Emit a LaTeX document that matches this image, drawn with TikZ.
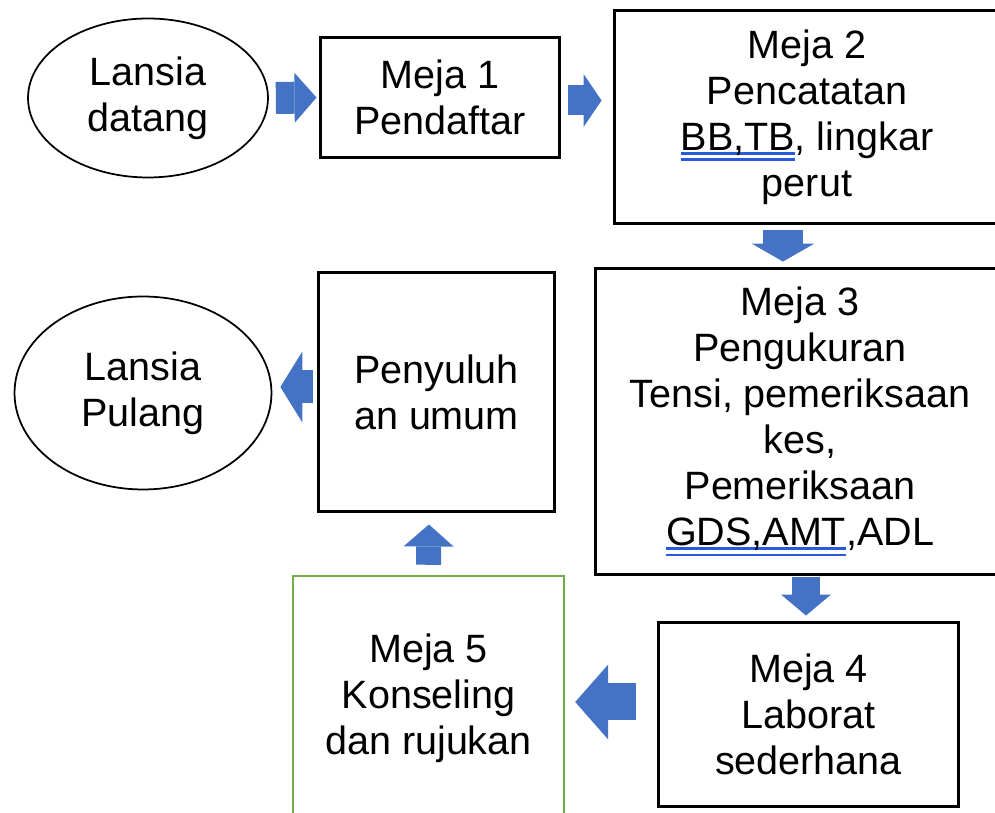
\documentclass[tikz,border=0pt]{standalone}
\usepackage{fontspec}
\setmainfont{Liberation Sans}
\usetikzlibrary{shapes.geometric,arrows.meta,calc}
\definecolor{arrow-blue}{RGB}{68,114,196}
\definecolor{meja-green}{RGB}{112,173,71}
\definecolor{ul-blue}{RGB}{38,92,220}
\newcommand{\dblul}[1]{\setbox0=\hbox{#1}\leavevmode
  \rlap{\textcolor{ul-blue}{\rule[-0.11em]{\wd0}{0.065em}}}%
  \rlap{\textcolor{ul-blue}{\rule[-0.27em]{\wd0}{0.065em}}}\box0}
\tikzset{
  box/.style={draw, line width=0.06cm, align=center, inner sep=0pt},
  oval/.style={draw, ellipse, line width=0.035cm, align=center, inner sep=0pt},
  flow/.style n args={3}{draw=arrow-blue, line width=#1, line cap=butt,
    -{Triangle[width=#2, length=#3, line width=0pt]}},
}

\begin{document}
\begin{tikzpicture}[x=0.02cm, y=-0.02cm, font=\fontsize{22.5}{26.2}\selectfont]
\useasboundingbox (0,0) rectangle (995,813);
\clip (0,0) rectangle (995,813);

\node[oval, minimum width=4.8cm, minimum height=3.18cm] (datang) at (148,98) {Lansia\\datang};
\node[box, minimum width=4.8cm, minimum height=2.42cm] (meja1) at (440,97.5) {Meja 1\\Pendaftar};
\node[box, minimum width=7.72cm, minimum height=4.28cm] (meja2) at (807,117) {Meja 2\\Pencatatan\\\dblul{BB,TB}, lingkar\\perut};
\node[box, minimum width=8.2cm, minimum height=6.14cm] (meja3) at (800,421.5) {Meja 3\\Pengukuran\\Tensi, pemeriksaan\\kes,\\Pemeriksaan\\\dblul{GDS,AMT},ADL};
\node[box, minimum width=6.02cm, minimum height=3.7cm] (meja4) at (808.5,714.5) {Meja 4\\Laborat\\sederhana};
\node[box, draw=meja-green, line width=0.05cm, minimum width=5.42cm, minimum height=5.64cm] (meja5) at (428.5,717) {Meja 5\\Konseling\\dan rujukan\\ ~};
\node[box, minimum width=4.74cm, minimum height=4.8cm] (penyuluhan) at (436.5,392) {Penyuluh\\an umum};
\node[oval, minimum width=5.14cm, minimum height=3.86cm] (pulang) at (143,393) {Lansia\\Pulang};

% block arrows
\draw[flow={0.64cm}{1cm}{0.44cm}, shorten <=0.14cm, shorten >=0.04cm] (datang.east) -- (meja1.west);
\draw[flow={0.6cm}{1.06cm}{0.36cm}, shorten <=0.14cm, shorten >=0.22cm] ($(meja1.east)+(0,3)$) -- ($(meja1.east -| meja2.west)+(0,3)$);
\draw[flow={0.8cm}{1.26cm}{0.36cm}, shorten <=0.1cm, shorten >=0.1cm] ($(meja2.south)+(-24,0)$) -- ($(meja3.north)+(-17,0)$);
\draw[flow={0.56cm}{1cm}{0.42cm}, shorten <=0.02cm, shorten >=0.1cm] ($(meja3.south)+(6,0)$) -- ($(meja4.north)+(-2.5,0)$);
\draw[flow={0.74cm}{1.5cm}{0.66cm}, shorten <=0.42cm, shorten >=0.2cm] ($(meja4.west)+(0,-12.5)$) -- ($(meja5.east)+(0,-15)$);
\draw[flow={0.5cm}{1cm}{0.44cm}, shorten <=0.2cm, shorten >=0.22cm] (meja5.north) -- ($(penyuluhan.south)+(-7.5,0)$);
\draw[flow={0.66cm}{1.42cm}{0.44cm}, shorten <=0.08cm, shorten >=0.16cm] ($(penyuluhan.west)+(0,-5)$) -- ($(pulang.east)+(0,-6)$);
\end{tikzpicture}
\end{document}
